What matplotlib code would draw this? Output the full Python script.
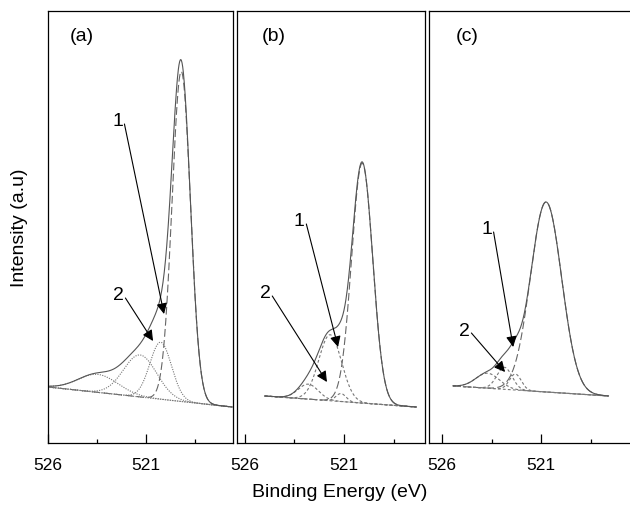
import numpy as np
import matplotlib.pyplot as plt

plt.rcParams['font.family'] = ['Liberation Sans', 'DejaVu Sans']

# peak fit, one set per spectrum
# centre (eV), height above background (a.u.), FWHM (eV); first peak = main line
centres_a = [519.2, 520.25, 521.3, 523.45]
heights_a = [330, 57, 42, 18]
widths_a = [1.1, 1.3, 2.0, 2.4]
scan_a = [526.0, 516.6]        # measured range
background_a = [56, 36]        # linear background at both ends

centres_b = [520.08, 521.7, 522.8, 521.15]
heights_b = [240, 66, 15, 8]
widths_b = [1.25, 1.35, 1.2, 0.6]
scan_b = [525.0, 517.35]
background_b = [47, 36]

centres_c = [520.75, 522.3, 522.85, 523.7]
heights_c = [190, 16, 22, 15]
widths_c = [1.85, 0.7, 0.9, 1.4]
scan_c = [525.45, 517.6]
background_c = [57, 47]

panel_names = ['(a)', '(b)', '(c)']
name_x = [0.181, 0.197, 0.183]
tick_major = [526, 521]
tick_minor = [523.5, 518.5]

# peak labels: (text x, text y, arrow tip x, arrow tip y)
label1 = [(522.45, 322, 520.08, 129), (523.25, 222, 521.3, 96), (523.75, 214, 522.41, 96)]
label2 = [(522.4, 148, 520.64, 102), (524.97, 150, 521.86, 61), (524.87, 113, 522.82, 71)]

def gauss(e, c, h, w):
    s = w / 2.3548
    return h * np.exp(-0.5 * ((e - c) / s) ** 2)

def draw_panel(ax, centres, heights, widths, scan, background, lstyle):
    e = np.linspace(scan[0], scan[1], 600)
    bg = np.interp(e, scan[::-1], background[::-1])
    total = bg.copy()
    for i in range(len(centres)):
        p = gauss(e, centres[i], heights[i], widths[i])
        total += p
        if i == 0:
            ax.plot(e, bg + p, color='#666666', lw=0.8, dashes=(7, 3))
        else:
            ax.plot(e, bg + p, color='#777777', lw=0.8, dashes=lstyle)
    ax.plot(e, bg, color='#777777', lw=0.8, dashes=lstyle)
    ax.plot(e, total, color='#555555', lw=0.8)

fig = plt.figure(figsize=(6.3, 5.1), dpi=100)
bottom = 66 / 510
height = 432 / 510
ax_a = fig.add_axes([48 / 630, bottom, 185 / 630, height])
ax_b = fig.add_axes([237 / 630, bottom, 188 / 630, height])
ax_c = fig.add_axes([429 / 630, bottom, 208 / 630, height])
axes = [ax_a, ax_b, ax_c]

draw_panel(ax_a, centres_a, heights_a, widths_a, scan_a, background_a, (1, 1.2))
draw_panel(ax_b, centres_b, heights_b, widths_b, scan_b, background_b, (2.5, 2))
draw_panel(ax_c, centres_c, heights_c, widths_c, scan_c, background_c, (2.5, 2))

ax_a.set_xlim(526.0, 516.56)
ax_b.set_xlim(526.40, 516.91)
ax_c.set_xlim(526.66, 516.16)

for i, ax in enumerate(axes):
    ax.set_ylim(0, 432)
    ax.set_yticks([])
    ax.set_xticks(tick_major)
    ax.set_xticklabels([str(t) for t in tick_major])
    ax.set_xticks(tick_minor, minor=True)
    ax.tick_params(axis='x', which='major', direction='in', length=6.5, width=0.9,
                   labelsize=12.5, pad=10)
    ax.tick_params(axis='x', which='minor', direction='in', length=3.2, width=0.9)
    for s in ax.spines.values():
        s.set_linewidth(0.9)
    ax.text(name_x[i], 0.944, panel_names[i], transform=ax.transAxes, fontsize=14,
            ha='center', va='center')
    for lab, txt in ((label1[i], '1'), (label2[i], '2')):
        ax.text(lab[0], lab[1], txt, fontsize=14, ha='center', va='center')
        ax.annotate('', xy=(lab[2], lab[3]), xytext=(lab[0] - 0.35, lab[1] - 3),
                    arrowprops=dict(arrowstyle='-|>', color='k', lw=0.8,
                                    mutation_scale=16, shrinkA=0, shrinkB=0))

fig.text(340 / 630, 1 - 493 / 510, 'Binding Energy (eV)', fontsize=14,
         ha='center', va='center')
fig.text(20 / 630, 1 - 228 / 510, 'Intensity (a.u)', fontsize=14,
         ha='center', va='center', rotation=90)

fig.savefig('out.png', dpi=100)
